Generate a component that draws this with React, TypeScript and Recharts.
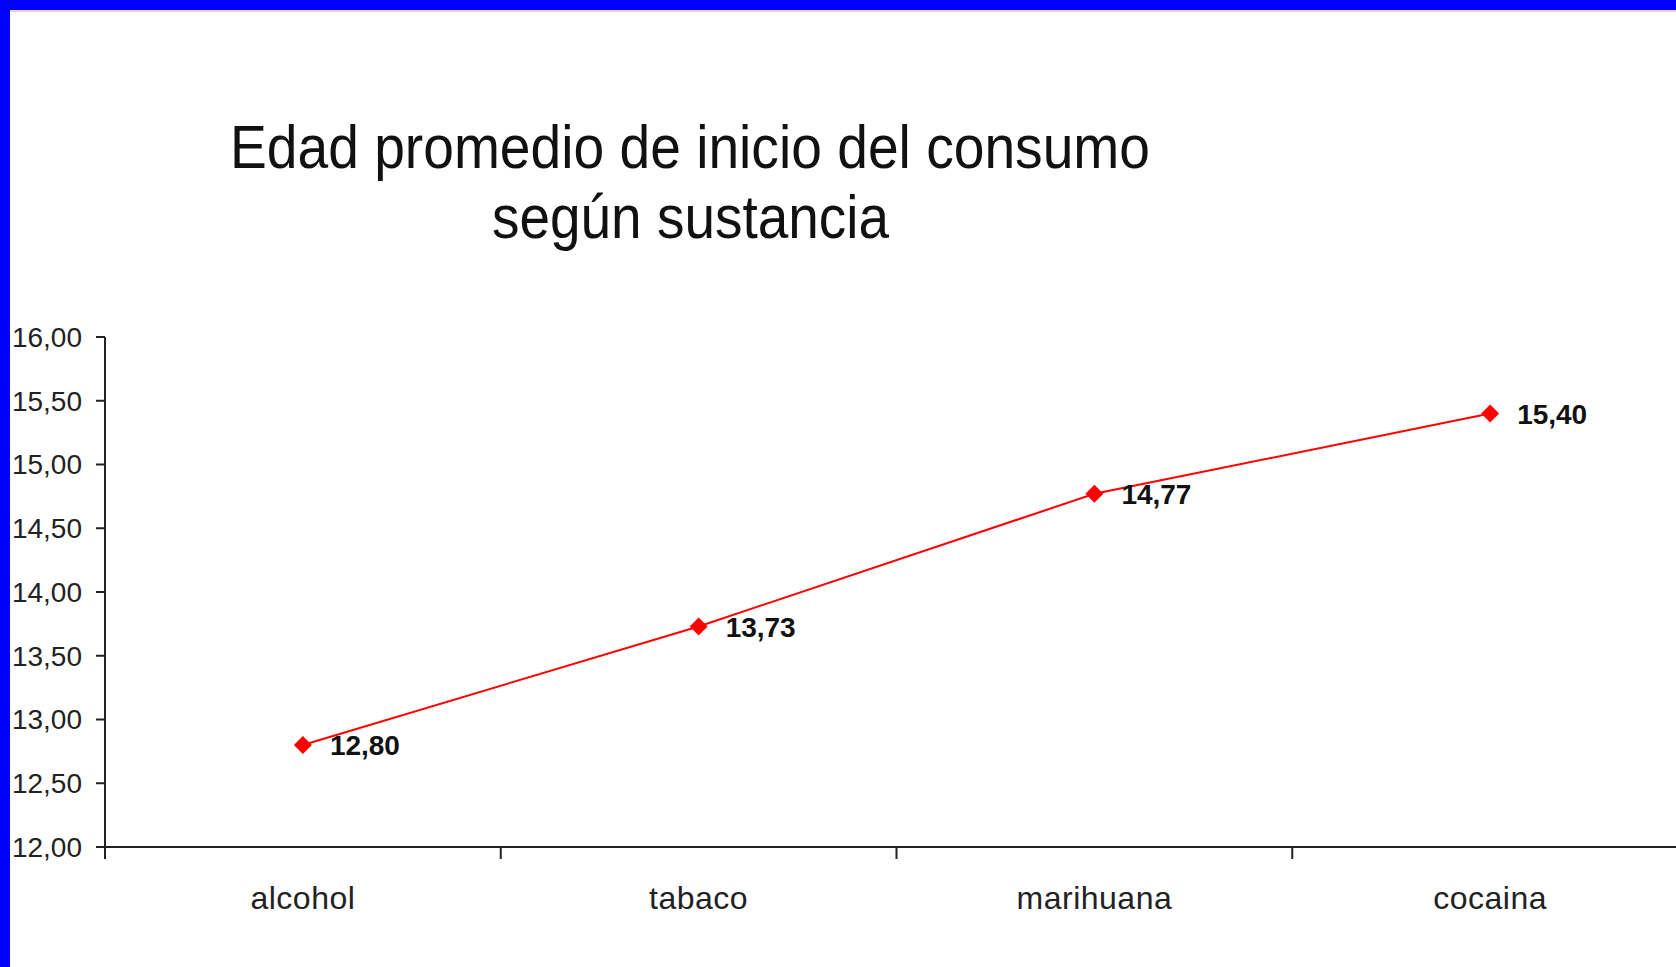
import React from "react";
import { LineChart, Line, XAxis, YAxis, LabelList } from "recharts";

const titleLines = ["Edad promedio de inicio del consumo", "según sustancia"];
const categories = ["alcohol", "tabaco", "marihuana", "cocaina"];
const values = [12.8, 13.73, 14.77, 15.4];
const yTicks = [12, 12.5, 13, 13.5, 14, 14.5, 15, 15.5, 16];

const data = categories.map((name, i) => ({ idx: i, name, value: values[i] }));
const xTicks: number[] = [];
for (let i = 0; i < categories.length; i++) {
  xTicks.push(i - 0.5);
  xTicks.push(i);
}
xTicks.push(categories.length - 0.5);

const FONT = "'Liberation Sans', Arial, Helvetica, sans-serif";
const fmt = (v: number) => v.toFixed(2).replace(".", ",");

const XTick = (props: any) => {
  const { x, y, payload } = props;
  const v = payload.value as number;
  if (Math.abs(v - Math.round(v)) > 0.1) {
    return <line x1={x} x2={x} y1={y} y2={y + 12} stroke="#222" strokeWidth={2} />;
  }
  return (
    <text
      x={x}
      y={y + 62}
      textAnchor="middle"
      fontFamily={FONT}
      fontSize={32}
      letterSpacing={0.5}
      fill="#222"
    >
      {categories[Math.round(v)]}
    </text>
  );
};

const Diamond = (props: any) => {
  const { cx, cy, index } = props;
  const s = 9;
  return (
    <path
      key={`d-${index}`}
      d={`M${cx},${cy - s} L${cx + s},${cy} L${cx},${cy + s} L${cx - s},${cy} Z`}
      fill="#ff0000"
      stroke="none"
    />
  );
};

const ValueLabel = (props: any) => {
  const { x, y, value, index } = props;
  return (
    <text
      key={`l-${index}`}
      x={x + 27}
      y={y}
      dy="0.36em"
      fontFamily={FONT}
      fontWeight="bold"
      fontSize={28}
      fill="#111"
    >
      {fmt(value)}
    </text>
  );
};

export default function App() {
  return (
    <div
      style={{
        position: "fixed",
        left: 0,
        top: 0,
        width: 1676,
        height: 967,
        overflow: "hidden",
        background: "#ffffff",
      }}
    >
      <div style={{ position: "absolute", left: 0, top: 0 }}>
        <LineChart
          width={1698}
          height={967}
          data={data}
          margin={{ top: 337, right: 10, bottom: 40, left: 0 }}
        >
          <XAxis
            dataKey="idx"
            type="number"
            domain={[-0.5, categories.length - 0.5]}
            ticks={xTicks}
            interval={0}
            allowDecimals
            height={80}
            tickSize={0}
            tickMargin={0}
            tickLine={false}
            axisLine={{ stroke: "#222", strokeWidth: 2 }}
            tick={<XTick />}
          />
          <YAxis
            type="number"
            domain={[12, 16]}
            ticks={yTicks}
            interval={0}
            width={105}
            tickSize={9}
            tickMargin={14}
            tickFormatter={fmt}
            axisLine={{ stroke: "#222", strokeWidth: 2 }}
            tickLine={{ stroke: "#222", strokeWidth: 2 }}
            tick={{ fontFamily: FONT, fontSize: 28, fill: "#222" }}
          />
          <Line
            type="linear"
            dataKey="value"
            stroke="#ff0000"
            strokeWidth={2}
            dot={Diamond}
            activeDot={false}
            isAnimationActive={false}
          >
            <LabelList dataKey="value" content={ValueLabel} />
          </Line>
        </LineChart>
      </div>
      <svg
        width={1676}
        height={967}
        style={{ position: "absolute", left: 0, top: 0, pointerEvents: "none" }}
      >
        <rect x={0} y={0} width={1676} height={10} fill="#0000ff" />
        <rect x={10} y={10} width={1666} height={2} fill="#f6d2b0" />
        <rect x={0} y={0} width={10} height={967} fill="#0000ff" />
        <text
          x={230}
          y={168}
          fontFamily={FONT}
          fontSize={62}
          fill="#111"
          textLength={920}
          lengthAdjust="spacingAndGlyphs"
        >
          {titleLines[0]}
        </text>
        <text
          x={492}
          y={238}
          fontFamily={FONT}
          fontSize={62}
          fill="#111"
          textLength={397}
          lengthAdjust="spacingAndGlyphs"
        >
          {titleLines[1]}
        </text>
      </svg>
    </div>
  );
}
